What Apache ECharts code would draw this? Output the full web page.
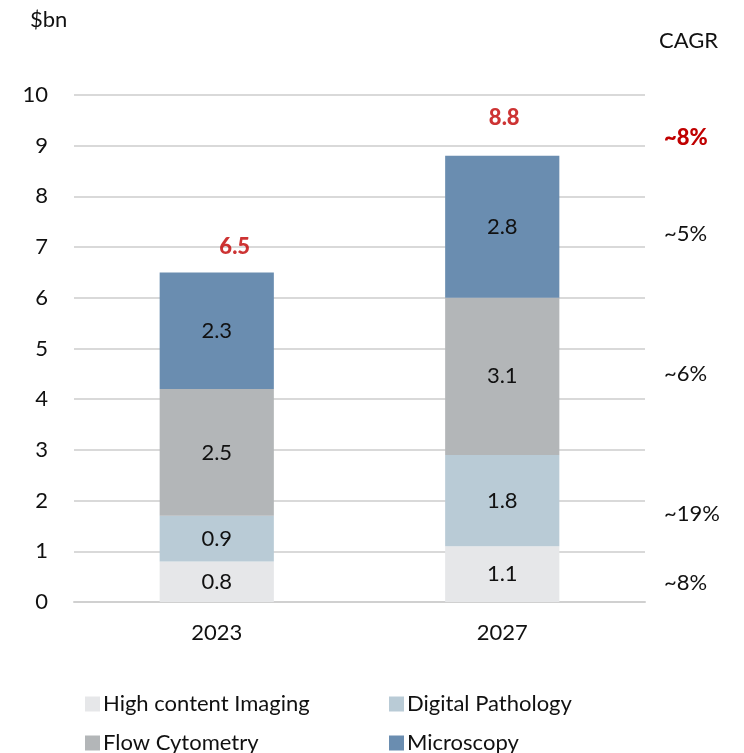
<!DOCTYPE html>
<html><head><meta charset="utf-8">
<script src="https://cdn.jsdelivr.net/npm/echarts@6/dist/echarts.min.js"></script>
<style>html,body{margin:0;padding:0;background:#fff}#c{width:744px;height:753px}</style>
</head><body><div id="c"></div>
<script>
const categories = ['2023', '2027'];
const seriesNames = ['High content Imaging', 'Digital Pathology', 'Flow Cytometry', 'Microscopy'];
const hci = [0.8, 1.1];
const digital = [0.9, 1.8];
const flow = [2.5, 3.1];
const micro = [2.3, 2.8];
const totals = [6.5, 8.8];
const cagrLabels = ['~8%', '~5%', '~6%', '~19%', '~8%'];
const colors = ['#E6E7E9', '#B9CBD6', '#B3B6B8', '#6A8DB0'];
const FONT = 'Lato';
const FS = 22;

const chart = echarts.init(document.getElementById('c'));
const vals = [hci, digital, flow, micro];
const series = vals.map((v, i) => ({
  name: seriesNames[i], type: 'bar', stack: 's', data: v, barWidth: '40%',
  itemStyle: { color: colors[i] },
  label: { show: true, position: 'inside', color: '#111', fontSize: FS, fontFamily: FONT,
    formatter: p => p.value.toFixed(1) }
}));
series.push({
  type: 'scatter', data: totals.map((t, i) => ({ value: t, label: { offset: i === 0 ? [18, -10] : [2, -22] } })),
  symbolSize: 0, silent: true,
  label: { show: true, position: 'top', color: '#C00000', fontWeight: 900, fontSize: FS, fontFamily: FONT,
    formatter: p => p.value.toFixed(1) }
});
const cagrY = [140, 236, 376, 516, 585];
const graphics = [
  { type: 'text', left: 30, top: 9, style: { text: '$bn', font: FS + 'px ' + FONT, fill: '#111' } },
  { type: 'text', left: 659, top: 30, style: { text: 'CAGR', font: FS + 'px ' + FONT, fill: '#111' } }
].concat(cagrLabels.map((t, i) => ({
  type: 'text', left: 664, top: cagrY[i] - 13,
  style: { text: t, font: (i === 0 ? '900 ' : '') + FS + 'px ' + FONT, fill: i === 0 ? '#C00000' : '#111' }
})));

const legendPos = [[80, 688], [384, 688], [80, 727], [384, 727]];
const legends = seriesNames.map((n, i) => ({
  data: [n], left: legendPos[i][0], top: legendPos[i][1], itemWidth: 15, itemHeight: 15, icon: 'rect',
  itemGap: 4, textStyle: { fontSize: FS, color: '#111', fontFamily: FONT, padding: [0, 0, 0, -2] }
}));

chart.setOption({
  animation: false,
  textStyle: { fontFamily: FONT },
  grid: { left: 74, right: 99, top: 95, bottom: 151, containLabel: false },
  xAxis: { type: 'category', data: categories,
    axisLine: { lineStyle: { color: '#D0D0D0', width: 2 } }, axisTick: { show: false },
    axisLabel: { color: '#111', fontSize: FS, fontFamily: FONT, margin: 20 } },
  yAxis: { type: 'value', min: 0, max: 10, interval: 1,
    axisLine: { show: false }, axisTick: { show: false },
    splitLine: { lineStyle: { color: '#D9D9D9', width: 2 } },
    axisLabel: { color: '#111', fontSize: FS, fontFamily: FONT, margin: 26 } },
  legend: legends,
  graphic: graphics,
  series: series
});
</script></body></html>
